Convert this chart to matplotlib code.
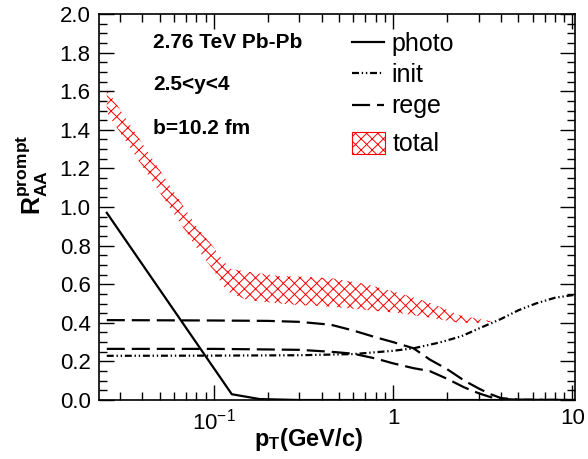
import matplotlib
matplotlib.use("Agg")
import matplotlib.pyplot as plt
from matplotlib.patches import Patch
from matplotlib.lines import Line2D
from matplotlib.ticker import FixedLocator, MultipleLocator, NullFormatter, FormatStrFormatter

plt.rcParams['font.family'] = ['Liberation Sans', 'DejaVu Sans']
plt.rcParams['mathtext.fontset'] = 'custom'
plt.rcParams['mathtext.rm'] = 'Liberation Sans'
plt.rcParams['mathtext.bf'] = 'Liberation Sans:bold'
plt.rcParams['mathtext.it'] = 'Liberation Sans:italic'
plt.rcParams['lines.scale_dashes'] = False
plt.rcParams['hatch.linewidth'] = 0.7

# photoproduction
pt_photo = [0.0253, 0.126, 0.18, 0.3, 1.0, 10.3]
r_photo = [0.97, 0.03, 0.005, 0.0, 0.0, 0.0]

# initial production
pt_init = [0.0253, 0.1, 0.3, 0.6, 1.0, 1.3, 1.8, 2.4, 3.0, 4.0, 5.0, 6.25, 8.0, 10.3]
r_init = [0.229, 0.23, 0.232, 0.238, 0.255, 0.268, 0.297, 0.33, 0.37, 0.42, 0.465, 0.50, 0.53, 0.545]

# regeneration, upper and lower
pt_rege = [0.0253, 0.1, 0.2, 0.3, 0.45, 0.6, 0.8, 1.0, 1.3, 1.6, 2.0, 2.5, 3.0, 3.5, 4.0, 5.0, 10.3]
r_rege_hi = [0.414, 0.412, 0.41, 0.405, 0.39, 0.36, 0.325, 0.30, 0.268, 0.21, 0.16, 0.10, 0.06, 0.03, 0.01, 0.002, 0.0]
r_rege_lo = [0.265, 0.265, 0.262, 0.26, 0.25, 0.24, 0.215, 0.19, 0.165, 0.15, 0.11, 0.065, 0.035, 0.015, 0.006, 0.001, 0.0]

# total band
pt_tot = [0.0253, 0.05, 0.08, 0.1, 0.113, 0.124, 0.153, 0.234, 0.3, 0.46, 0.71, 1.09, 1.65, 2.34, 3.0, 3.5]
r_tot_hi = [1.61, 1.19, 0.90, 0.79, 0.72, 0.68, 0.665, 0.642, 0.64, 0.63, 0.60, 0.553, 0.50, 0.44, 0.42, 0.41]
r_tot_lo = [1.49, 1.075, 0.79, 0.67, 0.59, 0.553, 0.518, 0.50, 0.492, 0.483, 0.466, 0.45, 0.425, 0.40, 0.40, 0.405]

fig = plt.figure(figsize=(5.88, 4.59), dpi=100)
ax = fig.add_axes([0.1684, 0.1285, 0.8096, 0.841])

ax.fill_between(pt_tot, r_tot_lo, r_tot_hi, facecolor='none', edgecolor='red',
                hatch='xxx', linewidth=0)
ax.plot(pt_photo, r_photo, color='black', lw=1.6)
ax.plot(pt_init, r_init, color='black', lw=1.6, dashes=(5, 2, 1, 2, 1, 2))
ax.plot(pt_rege, r_rege_hi, color='black', lw=1.6, dashes=(13, 5))
ax.plot(pt_rege, r_rege_lo, color='black', lw=1.6, dashes=(13, 5))

ax.set_xscale('log')
ax.set_xlim(0.0229, 10.35)
ax.set_ylim(0, 2.0)

ax.xaxis.set_major_locator(FixedLocator([0.1, 1, 10]))
ax.set_xticklabels([r'$10^{-1}$', '1', '10'])
minors = [m * 10.0 ** e for e in (-2, -1, 0, 1) for m in range(2, 10)]
ax.xaxis.set_minor_locator(FixedLocator(minors))
ax.xaxis.set_minor_formatter(NullFormatter())
ax.yaxis.set_major_locator(MultipleLocator(0.2))
ax.yaxis.set_minor_locator(MultipleLocator(0.05))
ax.yaxis.set_major_formatter(FormatStrFormatter('%.1f'))

ax.tick_params(which='both', direction='in', top=True, right=True, labelsize=16, width=1.0)
ax.tick_params(which='major', length=11, pad=6)
ax.tick_params(which='minor', length=6)
for s in ax.spines.values():
    s.set_linewidth(1.2)

fig.text(0.055, 0.62, r'$\mathbf{R_{AA}^{prompt}}$', rotation=90, fontsize=18,
         ha='center', va='center')
fig.text(0.524, 0.042, r'$\mathbf{p_{T}}$' + '(GeV/c)', fontsize=17, fontweight='bold',
         ha='center', va='center')

for txt, yp in [('2.76 TeV Pb-Pb', 43), ('2.5<y<4', 85), ('b=10.2 fm', 128)]:
    fig.text(153 / 588, (459 - yp) / 459, txt, fontsize=15, fontweight='bold', va='center')

line_handles = [Line2D([], [], color='black', lw=1.6),
                Line2D([], [], color='black', lw=1.6, dashes=(5, 2, 1, 2, 1, 2)),
                Line2D([], [], color='black', lw=1.6, dashes=(13, 5))]
leg1 = ax.legend(line_handles, ['photo', 'init', 'rege'], loc='upper left',
                 bbox_to_anchor=(339 / 588, (459 - 19) / 459), bbox_transform=fig.transFigure,
                 frameon=False, fontsize=18, handlelength=1.3, handletextpad=0.3,
                 labelspacing=0.3, borderpad=0)
ax.add_artist(leg1)
leg2 = ax.legend([Patch(facecolor='white', edgecolor='red', hatch='xxx', linewidth=0.8)], ['total'],
                 loc='center left', bbox_to_anchor=(339 / 588, (459 - 144) / 459),
                 bbox_transform=fig.transFigure, frameon=False, fontsize=18,
                 handlelength=1.35, handleheight=1.0, handletextpad=0.3, borderpad=0)

fig.savefig('out.png', dpi=100)
